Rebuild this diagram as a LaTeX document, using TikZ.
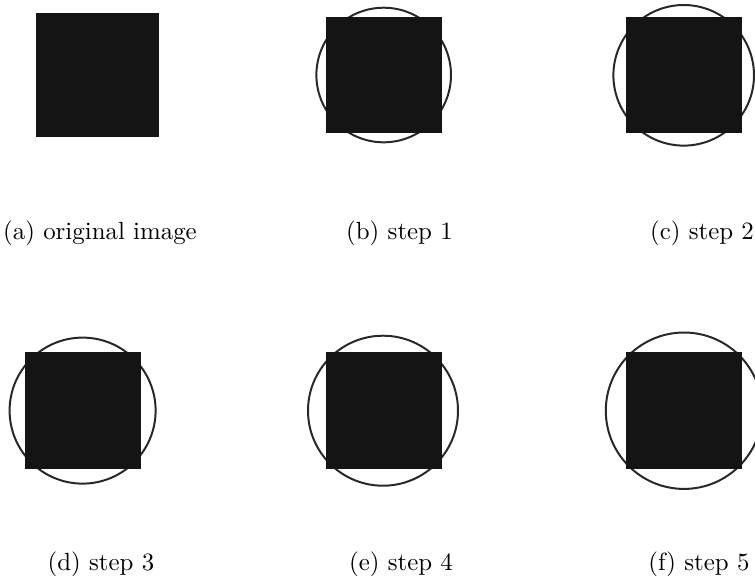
\documentclass[tikz,border=0pt]{standalone}
\begin{document}
\begin{tikzpicture}[x=0.402pt,y=-0.402pt,
  blk/.style={fill={rgb,255:red,20;green,20;blue,20}},
  ring/.style={draw={rgb,255:red,40;green,40;blue,40},line width=0.8pt},
  captext/.style={anchor=base,inner sep=0pt}]
\useasboundingbox (0,0) rectangle (755,582);
\begin{scope}
\clip (0,0) rectangle (755,582);
% (a)
\fill[blk] (36,13.3) rectangle (159,136.7);
% (b)
\draw[ring] (383.7,75) circle[radius=67.3];
\fill[blk] (325.7,16.7) rectangle (441.7,133.3);
% (c)
\draw[ring] (683.7,75.3) circle[radius=70.3];
\fill[blk] (625.7,16.7) rectangle (741.7,133.3);
% (d)
\draw[ring] (82.6,410.6) circle[radius=73];
\fill[blk] (25,352.3) rectangle (141,469);
% (e)
\draw[ring] (383,410.7) circle[radius=75];
\fill[blk] (325.7,352.3) rectangle (441.7,469);
% (f)
\draw[ring] (684,410.7) circle[radius=78.2];
\fill[blk] (625.7,352.3) rectangle (741.7,469);
\end{scope}
\node[captext] (la) at (100,239) {(a) original image};
\node[captext] (lb) at (399.5,239) {(b) step 1};
\node[captext] (lc) at (702,239) {(c) step 2};
\node[captext] (ld) at (101,570.5) {(d) step 3};
\node[captext] (le) at (401,570.5) {(e) step 4};
\node[captext] (lf) at (699,570.5) {(f) step 5};
\end{tikzpicture}
\end{document}
